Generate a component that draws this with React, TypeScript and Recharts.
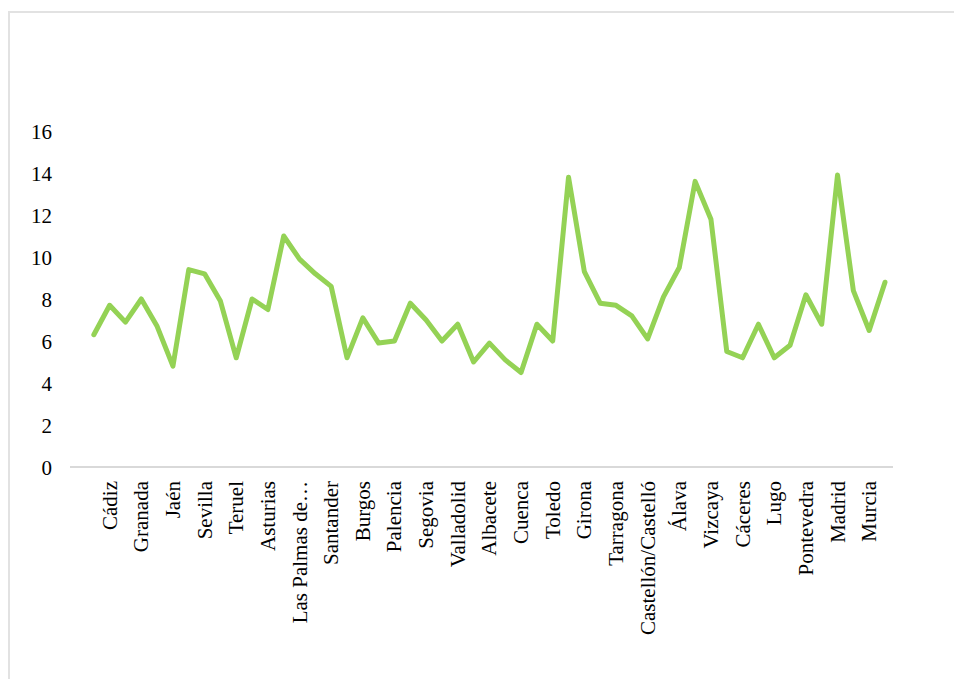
import React from 'react';
import { LineChart, Line, XAxis, YAxis } from 'recharts';

const provinces = [
  '', 'Almería', 'Cádiz', 'Córdoba', 'Granada', 'Huelva', 'Jaén', 'Málaga', 'Sevilla',
  'Huesca', 'Teruel', 'Zaragoza', 'Asturias', 'Baleares', 'Las Palmas de Gran Canaria',
  'Santa Cruz de Tenerife', 'Santander', 'Ávila', 'Burgos', 'León', 'Palencia', 'Salamanca',
  'Segovia', 'Soria', 'Valladolid', 'Zamora', 'Albacete', 'Ciudad Real', 'Cuenca',
  'Guadalajara', 'Toledo', 'Barcelona', 'Girona', 'Lleida', 'Tarragona', 'Alicante',
  'Castellón/Castelló', 'Valencia', 'Álava', 'Guipúzcoa', 'Vizcaya', 'Badajoz', 'Cáceres',
  'A Coruña', 'Lugo', 'Ourense', 'Pontevedra', 'La Rioja', 'Madrid', 'Navarra', 'Murcia', 'Ceuta',
];

const values: (number | null)[] = [
  null, 6.3, 7.7, 6.9, 8.0, 6.7, 4.8, 9.4, 9.2,
  7.9, 5.2, 8.0, 7.5, 11.0, 9.9,
  9.2, 8.6, 5.2, 7.1, 5.9, 6.0, 7.8,
  7.0, 6.0, 6.8, 5.0, 5.9, 5.1, 4.5,
  6.8, 6.0, 13.8, 9.3, 7.8, 7.7, 7.2,
  6.1, 8.1, 9.5, 13.6, 11.8, 5.5, 5.2,
  6.8, 5.2, 5.8, 8.2, 6.8, 13.9, 8.4, 6.5, 8.8,
];

const yTicks = [0, 2, 4, 6, 8, 10, 12, 14, 16];

const data = provinces.map((name, i) => ({ name, value: values[i] }));

const FONT = '"Liberation Serif", "Times New Roman", serif';
const FONT_SIZE = 21;
const textStyle = { fontFamily: FONT, fontSize: FONT_SIZE };

const shorten = (s: string) => (s.length > 20 ? s.slice(0, 13) + '…' : s);

const XTick = (props: any) => {
  const { x, payload } = props;
  return (
    <g transform={`translate(${x},467)`}>
      <text
        transform="rotate(-90)"
        x={-14}
        y={0}
        textAnchor="end"
        dominantBaseline="central"
        style={textStyle}
        fill="#000"
      >
        {shorten(payload.value)}
      </text>
    </g>
  );
};

const YTick = (props: any) => {
  const { y, payload } = props;
  return (
    <text x={52} y={y + 1} textAnchor="end" dominantBaseline="central" style={textStyle} fill="#000">
      {String(payload.value)}
    </text>
  );
};

export default function App() {
  return (
    <div style={{ position: 'absolute', left: 0, top: 0, width: 954, height: 679, overflow: 'hidden', background: '#fff' }}>
      <div
        style={{
          position: 'absolute',
          left: 8,
          top: 11,
          width: 960,
          height: 700,
          borderTop: '2px solid #e2e2e2',
          borderLeft: '2px solid #e2e2e2',
        }}
      />
      <div style={{ position: 'absolute', left: 0, top: 0 }}>
        <LineChart width={954} height={679} data={data} margin={{ top: 131, right: 61, left: 0, bottom: 0 }}>
          <XAxis
            dataKey="name"
            interval={1}
            height={212}
            padding={{ left: 8, right: 8 }}
            tickLine={false}
            axisLine={{ stroke: '#d9d9d9', strokeWidth: 2 }}
            tick={<XTick />}
          />
          <YAxis
            domain={[0, 16]}
            ticks={yTicks}
            width={70}
            axisLine={false}
            tickLine={false}
            tick={<YTick />}
          />
          <Line
            type="linear"
            dataKey="value"
            stroke="#94d255"
            strokeWidth={5}
            strokeLinejoin="round"
            strokeLinecap="round"
            dot={false}
            activeDot={false}
            isAnimationActive={false}
          />
        </LineChart>
      </div>
    </div>
  );
}
